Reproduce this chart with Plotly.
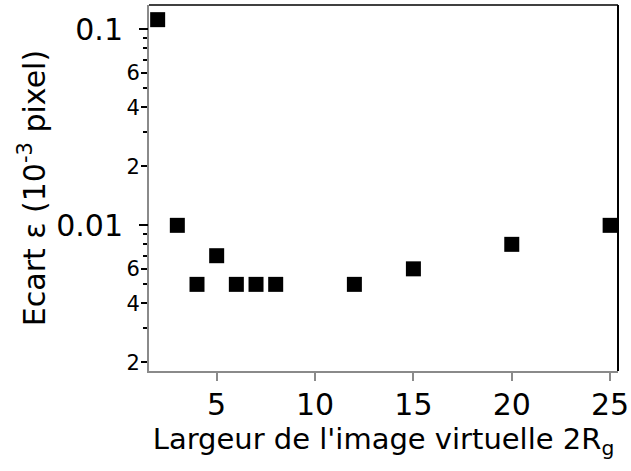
import plotly.graph_objects as go

# Data
largeur = [2, 3, 4, 5, 6, 7, 8, 12, 15, 20, 25]
ecart = [0.112, 0.010, 0.005, 0.007, 0.005, 0.005, 0.005, 0.005, 0.006, 0.008, 0.010]

x_ticks = [5, 10, 15, 20, 25]
y_minor_labelled = [0.002, 0.004, 0.006, 0.02, 0.04, 0.06]
y_minor_labels = ["2", "4", "6", "2", "4", "6"]
y_minor_unlabelled = [0.003, 0.005, 0.007, 0.008, 0.009, 0.03, 0.05, 0.07, 0.08, 0.09]
y_major = [0.01, 0.1]
y_major_labels = ["0.01", "0.1"]

FONT = "DejaVu Sans"
GRAY = "#8a8a8a"
yrange = [-2.743, -0.876]

fig = go.Figure()
fig.add_trace(go.Scatter(
    x=largeur, y=ecart, mode="markers",
    marker=dict(symbol="square", size=15, color="black", line=dict(width=0)),
    showlegend=False,
))
# invisible trace to activate yaxis2
fig.add_trace(go.Scatter(x=[largeur[0]], y=[ecart[0]], yaxis="y2", mode="markers",
                         marker=dict(opacity=0), showlegend=False, hoverinfo="skip"))

fig.update_layout(
    width=631, height=471,
    margin=dict(l=149, r=13, t=5, b=100, autoexpand=False),
    paper_bgcolor="white", plot_bgcolor="white",
    font=dict(family=FONT, color="black"),
    xaxis=dict(
        range=[1.56, 25.4], tickmode="array", tickvals=x_ticks,
        ticks="outside", ticklen=8, tickwidth=2, tickcolor=GRAY,
        showline=True, linecolor=GRAY, linewidth=2,
        showgrid=False, zeroline=False, automargin=False,
        tickfont=dict(size=30, family=FONT), ticklabelstandoff=-2,
        title=dict(text="Largeur de l'image virtuelle 2R<sub>g</sub>",
                   font=dict(size=29, family=FONT), standoff=2),
    ),
    yaxis=dict(
        type="log", range=yrange, tickmode="array",
        tickvals=y_minor_labelled, ticktext=y_minor_labels,
        ticks="outside", ticklen=6, tickwidth=1.5, tickcolor="black",
        minor=dict(tickmode="array", tickvals=y_minor_unlabelled, ticks="outside",
                   ticklen=4, tickwidth=1.5, tickcolor="black", showgrid=False),
        showline=True, linecolor=GRAY, linewidth=2,
        showgrid=False, zeroline=False, automargin=False,
        tickfont=dict(size=21, family=FONT), ticklabelstandoff=-3,
        title=dict(text="Ecart ε (10<sup>-3</sup> pixel)",
                   font=dict(size=30, family=FONT), standoff=72),
    ),
    yaxis2=dict(
        type="log", range=yrange, overlaying="y", side="left", anchor="x",
        tickmode="array", tickvals=y_major, ticktext=y_major_labels,
        ticks="outside", ticklen=9, tickwidth=1.5, tickcolor="black",
        showline=False, showgrid=False, zeroline=False, automargin=False,
        tickfont=dict(size=30, family=FONT), ticklabelstandoff=10,
    ),
)

# black frame on top and right
fig.add_shape(type="line", xref="paper", yref="paper", x0=0, x1=1, y0=1, y1=1,
              line=dict(color="black", width=1.5))
fig.add_shape(type="line", xref="paper", yref="paper", x0=1, x1=1, y0=0, y1=1,
              line=dict(color="black", width=2))

fig.write_html("out.html", config={"displayModeBar": False},
               post_script="document.body.style.margin='0';")
